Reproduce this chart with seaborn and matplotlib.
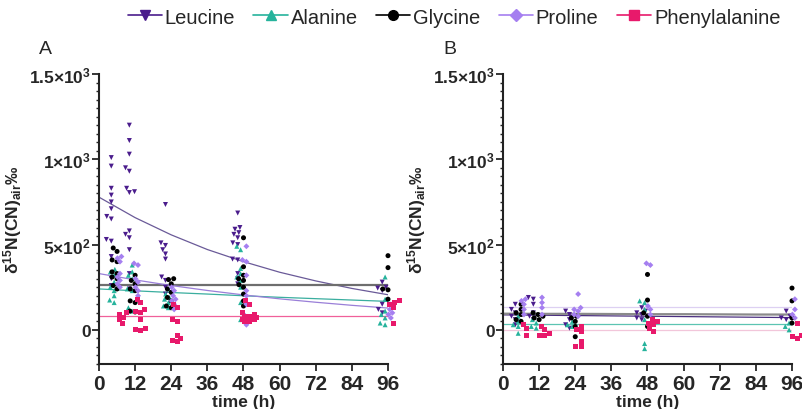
import numpy as np
import pandas as pd
import matplotlib
matplotlib.use('Agg')
import matplotlib.pyplot as plt
from matplotlib.lines import Line2D
from matplotlib.ticker import MultipleLocator
import seaborn as sns

times = [6, 12, 24, 48, 96]
amino_acids = ['Leucine', 'Alanine', 'Glycine', 'Proline', 'Phenylalanine']
colors = {'Leucine': '#4a1c8c', 'Alanine': '#26b39c', 'Glycine': '#000000',
          'Proline': '#a57ff0', 'Phenylalanine': '#e8196b'}
markers = {'Leucine': 'v', 'Alanine': '^', 'Glycine': 'o', 'Proline': 'D', 'Phenylalanine': 's'}

# panel A, one list per time point
leucine_a = [[1010, 960, 830, 790, 750, 710, 665, 650, 530, 520, 430, 300, 260],
             [1200, 1110, 1030, 950, 930, 830, 810, 805, 580, 560, 540, 470, 330, 240],
             [735, 510, 495, 470, 445, 415, 310, 290, 250, 210],
             [685, 600, 590, 570, 560, 540, 510, 500, 415, 410, 330, 300, 270],
             [280, 250, 245, 230, 150, 120, 100]]
alanine_a = [[355, 340, 320, 280, 250, 230, 200, 175, 160],
             [380, 340, 320, 300, 240, 230, 130, 110],
             [240, 210, 190, 180, 160, 140, 130],
             [490, 470, 360, 330, 310, 290, 250, 160, 60],
             [310, 180, 110, 90, 70, 40, 30]]
glycine_a = [[480, 460, 410, 400, 340, 330, 310, 300, 260, 240],
             [320, 290, 270, 240, 230, 170, 160, 110, 105],
             [300, 295, 270, 240, 220, 190, 170, 140, 130],
             [540, 370, 320, 300, 290, 265, 250, 210, 170, 140],
             [435, 365, 240, 235, 180]]
proline_a = [[430, 420, 400, 330, 310, 290, 270, 250],
             [390, 380, 300, 280, 250, 230, 200],
             [250, 230, 200, 180, 170, 150, 120],
             [490, 410, 400, 320, 230, 200, 150, 90, 70, 30],
             [150, 120, 100, 90, 70]]
phenylalanine_a = [[100, 90, 75, 60, 40],
                   [180, 160, 120, 110, 100, 60, 10, 0, -5],
                   [150, 130, 60, 50, -30, -50, -60, -70],
                   [170, 150, 100, 90, 80, 80, 70, 60, 60, 50, 50],
                   [175, 160, 150, 130, 40]]

# panel B
leucine_b = [[150, 120, 100, 80, 60, 30],
             [190, 180, 150, 100, 80, 60],
             [110, 90, 60, 30, 10],
             [130, 110, 100, 90, 70, 60],
             [110, 80, 70, 60]]
alanine_b = [[80, 50, 30, 20, -20],
             [60, 40, 20, 10],
             [50, 30, 20],
             [170, 160, 120, 60, -80, -110],
             [40, 20, 0]]
glycine_b = [[150, 120, 100, 90, 60, 50],
             [100, 90, 80, 70, 60],
             [80, 70, 50, 20, -40],
             [325, 175, 100, 80, 20],
             [245, 170, 70, 40]]
proline_b = [[180, 170, 150, 120, 90],
             [190, 160, 130, 90],
             [210, 130, 120, 110, 90, 80],
             [390, 380, 140, 120, 90],
             [180, 120, 90, 70]]
phenylalanine_b = [[30, 10, -30],
                   [20, 0, -20, -30, -30],
                   [20, 0, -10, -70, -100, -100],
                   [60, 50, 40, 30, 10, -10],
                   [40, -30, -40, -50]]

# fitted curves read at these times
fit_times = [0, 12, 24, 36, 48, 60, 72, 84, 96]
leucine_fit_a = [778, 658, 557, 471, 400, 338, 287, 243, 206]
alanine_fit_a = [240, 229, 219, 210, 200, 191, 183, 175, 167]
glycine_fit_a = [262, 262, 262, 262, 262, 262, 262, 262, 262]
proline_fit_a = [330, 293, 260, 231, 205, 182, 162, 144, 128]
phenylalanine_fit_a = [80, 80, 80, 80, 80, 80, 80, 80, 80]

leucine_fit_b = [88, 86, 84, 82, 80, 78, 76, 74, 72]
alanine_fit_b = [33, 33, 33, 33, 33, 33, 33, 33, 33]
glycine_fit_b = [95, 94, 94, 93, 92, 92, 91, 90, 90]
proline_fit_b = [137, 137, 137, 137, 137, 137, 137, 137, 137]
phenylalanine_fit_b = [0, 0, 0, 0, 0, 0, 0, 0, 0]

line_colors_a = {'Leucine': '#6a5a98', 'Alanine': '#3aae9f', 'Glycine': '#6e6e6e',
                 'Proline': '#9a7fd8', 'Phenylalanine': '#f0609a'}
line_colors_b = {'Leucine': '#4b2f80', 'Alanine': '#5cc4b2', 'Glycine': '#8a8a8a',
                 'Proline': '#ddd0f2', 'Phenylalanine': '#f2c6da'}


def build_frame(series):
    rows = []
    for name, groups in zip(amino_acids, series):
        for t, vals in zip(times, groups):
            for v in vals:
                rows.append({'amino_acid': name, 'time': t, 'd15N': v})
    return pd.DataFrame(rows)


def draw_panel(ax, df, fits, line_colors):
    for name, vals in zip(amino_acids, fits):
        sns.lineplot(x=fit_times, y=vals, ax=ax, color=line_colors[name],
                     linewidth=1.6 if name == 'Glycine' else 0.9, zorder=1)
    for name in amino_acids:
        sub = df[df['amino_acid'] == name]
        sns.swarmplot(data=sub, x='time', y='d15N', hue='amino_acid', hue_order=amino_acids,
                      palette=colors, dodge=True, native_scale=True, orient='x',
                      marker=markers[name], size=3.6 if name != 'Proline' else 3.0,
                      linewidth=0, legend=False, clip_on=False, zorder=3, ax=ax)
    ax.set_xlim(0, 96)
    ax.set_ylim(-200, 1500)
    ax.set_xticks(range(0, 97, 12))
    ax.set_yticks([0, 500, 1000, 1500])
    ax.set_yticklabels(['0', r'5$\times$10$^{2}$', r'1$\times$10$^{3}$', r'1.5$\times$10$^{3}$'])
    ax.yaxis.set_minor_locator(MultipleLocator(50))
    ax.tick_params(axis='x', labelsize=15, length=5, width=1.3, pad=2)
    ax.tick_params(axis='y', which='major', labelsize=12.5, length=5, width=1.3, pad=1)
    ax.tick_params(axis='y', which='minor', length=2.5, width=1.0)
    for lab in ax.get_xticklabels() + ax.get_yticklabels():
        lab.set_fontweight('bold')
    ax.set_xlabel('time (h)', fontsize=12.5, fontweight='bold', labelpad=1)
    ax.set_ylabel('δ$^{15}$N(CN)$_{air}$‰', fontsize=12.5, fontweight='bold', labelpad=3)
    for side in ['top', 'right']:
        ax.spines[side].set_visible(False)
    for side in ['left', 'bottom']:
        ax.spines[side].set_linewidth(1.5)
        ax.spines[side].set_color('#222222')


sns.set_theme(style='ticks')
plt.rcParams['font.family'] = ['Liberation Sans', 'DejaVu Sans']
plt.rcParams['mathtext.fontset'] = 'custom'
plt.rcParams['mathtext.rm'] = 'Liberation Sans:bold'
plt.rcParams['mathtext.bf'] = 'Liberation Sans:bold'
plt.rcParams['mathtext.default'] = 'bf'

df_a = build_frame([leucine_a, alanine_a, glycine_a, proline_a, phenylalanine_a])
df_b = build_frame([leucine_b, alanine_b, glycine_b, proline_b, phenylalanine_b])

fig = plt.figure(figsize=(8.03, 4.10), dpi=100)
ax_a = fig.add_axes([99 / 803, 45 / 410, 289 / 803, 290 / 410])
ax_b = fig.add_axes([503 / 803, 45 / 410, 289 / 803, 290 / 410])

draw_panel(ax_a, df_a, [leucine_fit_a, alanine_fit_a, glycine_fit_a, proline_fit_a, phenylalanine_fit_a],
           line_colors_a)
draw_panel(ax_b, df_b, [leucine_fit_b, alanine_fit_b, glycine_fit_b, proline_fit_b, phenylalanine_fit_b],
           line_colors_b)

fig.text(39 / 803, 1 - 50 / 410, 'A', fontsize=14, va='center', ha='left')
fig.text(443 / 803, 1 - 50 / 410, 'B', fontsize=14, va='center', ha='left')

handles = [Line2D([], [], color=colors[n], marker=markers[n], markersize=7 if n != 'Proline' else 6,
                  linewidth=1.2) for n in amino_acids]
fig.legend(handles, amino_acids, loc='center', bbox_to_anchor=(454 / 803, 1 - 18 / 410), ncol=5,
           frameon=False, fontsize=14.5, handlelength=1.7, handletextpad=0.15, columnspacing=0.9,
           borderaxespad=0, borderpad=0)

plt.savefig('out.png', dpi=100)
